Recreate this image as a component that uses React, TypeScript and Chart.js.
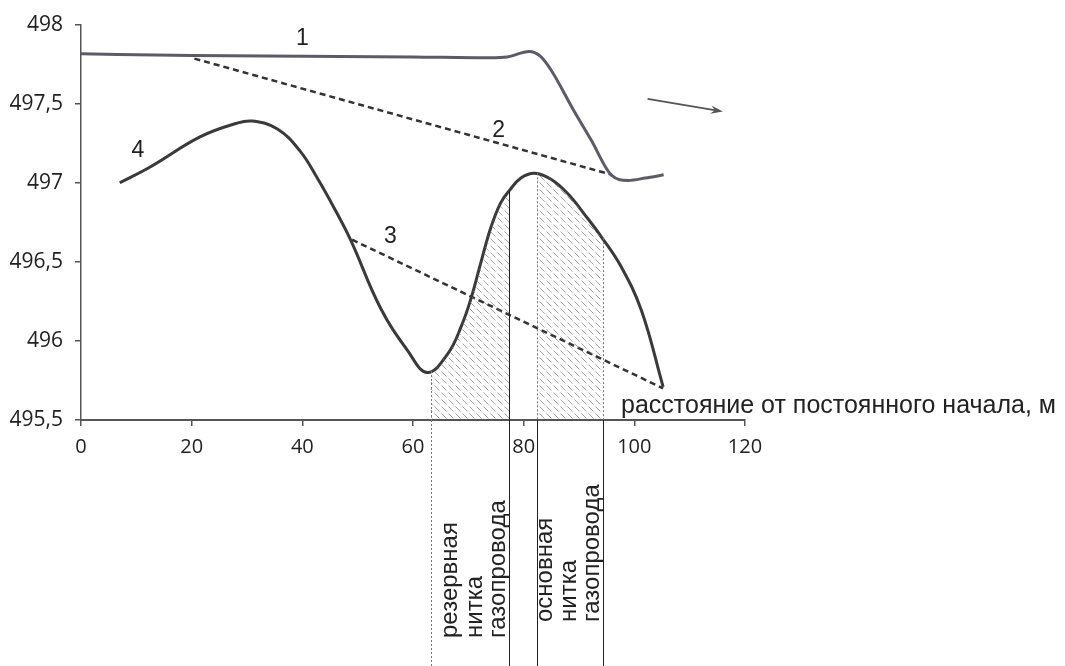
import React, { useEffect, useRef } from "react";
import { Chart, registerables } from "chart.js";

Chart.register(...registerables);

// ---------- data ----------
const xMin = 0;
const xMax = 120;
const xStep = 20;
const yMin = 495.5;
const yMax = 498;
const yStep = 0.5;

// curve 1
const line1X = [0, 20, 40, 60, 74, 77, 81, 83, 85, 89, 92.2, 95.8, 98.9, 102, 105.3];
const line1Y = [497.815, 497.805, 497.8, 497.795, 497.79, 497.795, 497.83, 497.8, 497.71, 497.46, 497.27, 497.05, 497.015, 497.03, 497.05];

// dashed line 2
const line2X = [20.5, 96];
const line2Y = [497.785, 497.05];

// dashed line 3
const line3X = [49, 105.2];
const line3Y = [496.64, 495.7];

// curve 4
const line4X = [7, 12.5, 21.5, 28, 31, 35.5, 39.6, 42.7, 45.6, 48.7, 54.1, 59, 62.6, 66.3, 68.7, 70.5, 72.3, 74.1, 75.8, 77.4, 79.5, 82, 85, 88, 91, 94, 97.6, 101.3, 105.2];
const line4Y = [497.0, 497.1, 497.29, 497.375, 497.39, 497.34, 497.2, 497.03, 496.85, 496.64, 496.21, 495.94, 495.8, 495.92, 496.09, 496.27, 496.5, 496.72, 496.87, 496.95, 497.03, 497.06, 497.02, 496.93, 496.8, 496.66, 496.47, 496.19, 495.71];

// hatched areas (reserve and main pipe threads)
const hatchAX = [63.2, 66.3, 68.7, 70.5, 72.3, 74.1, 75.8, 77.4];
const hatchAY = [495.81, 495.92, 496.09, 496.27, 496.5, 496.72, 496.87, 496.95];
const hatchBX = [82.4, 85, 88, 91, 94.3];
const hatchBY = [497.06, 497.02, 496.93, 496.8, 496.65];

// vertical guide lines
const guideX = [63.2, 77.4, 82.4, 94.3];
const guideTop = [495.81, 496.95, 497.06, 496.65];
const guideAboveDotted = [true, false, true, true];
const guideBelowDotted = [true, false, false, false];

// curve labels
const curveLabels = ["1", "2", "3", "4"];
const curveLabelX = [40, 75.5, 55.9, 10.3];
const curveLabelY = [497.91, 497.33, 496.66, 497.2];

// axis title
const axisTitle = "расстояние от постоянного начала, м";
const axisTitleX = 97.6;
const axisTitleY = 495.545;

// pipe labels under the axis
const pipeGroups = [
  ["резервная", "нитка", "газопровода"],
  ["основная", "нитка", "газопровода"],
];
const pipeLabelX = [
  [68.0, 72.4, 76.6],
  [85.2, 89.5, 93.7],
];
const pipeLabelDrop = [218, 202];

// flow arrow
const arrowFrom = [102.4, 497.53];
const arrowTo = [116, 497.45];

const fmtY = (v: number) => String(v).replace(".", ",");
const pts = (xs: number[], ys: number[]) => xs.map((x, i) => ({ x, y: ys[i] }));

function makeHatch(): CanvasPattern | string {
  const c = document.createElement("canvas");
  c.width = 7;
  c.height = 7;
  const g = c.getContext("2d");
  if (!g) return "rgba(150,150,150,0.3)";
  g.strokeStyle = "rgba(115,115,115,0.65)";
  g.lineWidth = 1;
  g.beginPath();
  g.moveTo(0.5, 0.5);
  g.lineTo(5.5, 5.5);
  g.stroke();
  return g.createPattern(c, "repeat") || "rgba(150,150,150,0.3)";
}

const annotationPlugin = {
  id: "annotations",
  afterDatasetsDraw(chart: any) {
    const { ctx } = chart;
    const xs = chart.scales.x;
    const ys = chart.scales.y;
    const H = chart.height;
    const axisY = ys.getPixelForValue(yMin);
    ctx.save();

    // guide lines
    guideX.forEach((gx, i) => {
      const px = Math.round(xs.getPixelForValue(gx)) + 0.5;
      const top = ys.getPixelForValue(guideTop[i]);
      ctx.lineWidth = 1;
      ctx.strokeStyle = guideAboveDotted[i] ? "#777" : "#222";
      ctx.setLineDash(guideAboveDotted[i] ? [2, 2] : []);
      ctx.beginPath();
      ctx.moveTo(px, top);
      ctx.lineTo(px, axisY);
      ctx.stroke();
      ctx.strokeStyle = guideBelowDotted[i] ? "#777" : "#222";
      ctx.setLineDash(guideBelowDotted[i] ? [2, 2] : []);
      ctx.beginPath();
      ctx.moveTo(px, axisY);
      ctx.lineTo(px, H);
      ctx.stroke();
    });
    ctx.setLineDash([]);

    // curve labels
    ctx.fillStyle = "#222";
    ctx.font = '23px "Liberation Sans"';
    ctx.textAlign = "center";
    ctx.textBaseline = "middle";
    curveLabels.forEach((t, i) => {
      ctx.fillText(t, xs.getPixelForValue(curveLabelX[i]), ys.getPixelForValue(curveLabelY[i]));
    });

    // axis title
    ctx.font = '25px "Liberation Sans"';
    ctx.textAlign = "left";
    ctx.textBaseline = "alphabetic";
    ctx.fillText(axisTitle, xs.getPixelForValue(axisTitleX), ys.getPixelForValue(axisTitleY));

    // pipe labels
    ctx.font = '24px "Liberation Sans"';
    pipeGroups.forEach((group, g) => {
      group.forEach((t, j) => {
        ctx.save();
        ctx.translate(xs.getPixelForValue(pipeLabelX[g][j]), axisY + pipeLabelDrop[g]);
        ctx.rotate(-Math.PI / 2);
        ctx.fillText(t, 0, 0);
        ctx.restore();
      });
    });

    // arrow
    const ax1 = xs.getPixelForValue(arrowFrom[0]);
    const ay1 = ys.getPixelForValue(arrowFrom[1]);
    const ax2 = xs.getPixelForValue(arrowTo[0]);
    const ay2 = ys.getPixelForValue(arrowTo[1]);
    const ang = Math.atan2(ay2 - ay1, ax2 - ax1);
    ctx.strokeStyle = "#555";
    ctx.fillStyle = "#555";
    ctx.lineWidth = 1.8;
    ctx.beginPath();
    ctx.moveTo(ax1, ay1);
    ctx.lineTo(ax2 - 4 * Math.cos(ang), ay2 - 4 * Math.sin(ang));
    ctx.stroke();
    ctx.beginPath();
    ctx.moveTo(ax2, ay2);
    ctx.lineTo(ax2 - 13 * Math.cos(ang - 0.33), ay2 - 13 * Math.sin(ang - 0.33));
    ctx.lineTo(ax2 - 8 * Math.cos(ang), ay2 - 8 * Math.sin(ang));
    ctx.lineTo(ax2 - 13 * Math.cos(ang + 0.33), ay2 - 13 * Math.sin(ang + 0.33));
    ctx.closePath();
    ctx.fill();

    ctx.restore();
  },
};

export default function App() {
  const ref = useRef<HTMLCanvasElement | null>(null);

  useEffect(() => {
    if (!ref.current) return;
    const hatch = makeHatch();
    const smooth = { pointRadius: 0, pointHoverRadius: 0, tension: 0.4 };
    const mono = { pointRadius: 0, pointHoverRadius: 0, cubicInterpolationMode: "monotone" as const };
    const chart = new Chart(ref.current, {
      type: "line",
      data: {
        datasets: [
          { ...smooth, data: pts(hatchAX, hatchAY), borderWidth: 0, borderColor: "transparent", backgroundColor: hatch as any, fill: "start" },
          { ...smooth, data: pts(hatchBX, hatchBY), borderWidth: 0, borderColor: "transparent", backgroundColor: hatch as any, fill: "start" },
          { ...mono, data: pts(line1X, line1Y), borderColor: "#5c5c66", borderWidth: 3, fill: false },
          { ...mono, data: pts(line2X, line2Y), borderColor: "#333", borderWidth: 2.5, borderDash: [6, 4], fill: false },
          { ...mono, data: pts(line3X, line3Y), borderColor: "#333", borderWidth: 2.5, borderDash: [6, 4], fill: false },
          { ...smooth, data: pts(line4X, line4Y), borderColor: "#3a3a3a", borderWidth: 3, fill: false },
        ],
      },
      options: {
        animation: false,
        responsive: false,
        maintainAspectRatio: false,
        layout: { padding: { left: 0, top: 24, right: 320, bottom: 0 } },
        plugins: { legend: { display: false }, tooltip: { enabled: false } },
        scales: {
          x: {
            type: "linear",
            min: xMin,
            max: xMax,
            ticks: { stepSize: xStep, color: "#222", font: { family: '"Open Sans"', size: 20 }, padding: 9, maxRotation: 0 },
            grid: { drawOnChartArea: false, drawTicks: true, tickLength: 6, color: "#555", lineWidth: 1.5 },
            border: { display: true, color: "#555", width: 2 },
            afterFit: (s: any) => {
              s.height = 246;
            },
          },
          y: {
            type: "linear",
            min: yMin,
            max: yMax,
            ticks: { stepSize: yStep, color: "#222", font: { family: '"Open Sans"', size: 21 }, padding: 12, callback: (v: any) => fmtY(Number(v)) },
            grid: { drawOnChartArea: false, drawTicks: true, tickLength: 6, color: "#555", lineWidth: 1.5 },
            border: { display: true, color: "#555", width: 1.5 },
            afterFit: (s: any) => {
              s.width = 81;
            },
          },
        },
      },
      plugins: [annotationPlugin],
    });
    return () => chart.destroy();
  }, []);

  return (
    <div style={{ position: "absolute", left: 0, top: 0, width: 1065, height: 666, background: "#fff" }}>
      <canvas ref={ref} width={1065} height={666} style={{ display: "block", width: 1065, height: 666 }} />
    </div>
  );
}
